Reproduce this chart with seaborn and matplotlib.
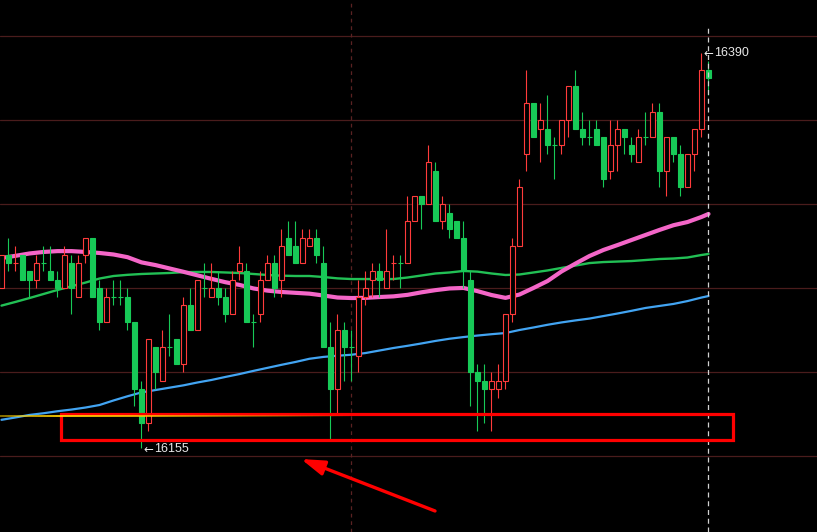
import numpy as np
import pandas as pd
import matplotlib
matplotlib.use("Agg")
import matplotlib.pyplot as plt
import seaborn as sns
from matplotlib.patches import Rectangle, FancyArrowPatch
from matplotlib.collections import LineCollection

# ---- candle data (one bar per period) ----
opens = [16250, 16270, 16265, 16270, 16260, 16255, 16265, 16260, 16255, 16250,
         16265, 16245, 16270, 16280, 16250, 16230, 16245, 16245, 16245, 16230,
         16190, 16170, 16215, 16195, 16215, 16220, 16205, 16240, 16225, 16250,
         16245, 16250, 16245, 16235, 16260, 16260, 16230, 16235, 16255, 16265,
         16255, 16280, 16275, 16265, 16275, 16280, 16265, 16215, 16190, 16225,
         16215, 16210, 16245, 16255, 16260, 16250, 16265, 16265, 16265, 16290,
         16305, 16300, 16320, 16290, 16295, 16290, 16280, 16255, 16200, 16195,
         16190, 16190, 16195, 16235, 16275, 16330, 16360, 16345, 16345, 16335,
         16335, 16350, 16370, 16345, 16340, 16345, 16340, 16320, 16335, 16345,
         16335, 16325, 16340, 16340, 16355, 16320, 16340, 16330, 16310, 16330,
         16345, 16380]
highs = [16270, 16280, 16275, 16270, 16260, 16270, 16275, 16275, 16260, 16275,
         16270, 16270, 16280, 16280, 16255, 16250, 16255, 16255, 16250, 16230,
         16195, 16220, 16215, 16225, 16235, 16220, 16245, 16250, 16255, 16265,
         16265, 16260, 16250, 16260, 16275, 16265, 16235, 16260, 16270, 16270,
         16285, 16290, 16290, 16285, 16285, 16285, 16275, 16230, 16235, 16230,
         16225, 16255, 16260, 16265, 16265, 16285, 16270, 16270, 16305, 16305,
         16305, 16335, 16325, 16305, 16300, 16290, 16290, 16260, 16205, 16205,
         16200, 16205, 16235, 16280, 16315, 16380, 16360, 16360, 16365, 16340,
         16350, 16370, 16380, 16355, 16350, 16350, 16340, 16350, 16350, 16345,
         16340, 16345, 16355, 16360, 16360, 16340, 16340, 16335, 16330, 16345,
         16390, 16385]
lows = [16250, 16260, 16260, 16255, 16245, 16250, 16260, 16255, 16245, 16250,
        16235, 16245, 16265, 16245, 16225, 16230, 16240, 16240, 16225, 16180,
        16155, 16165, 16190, 16195, 16210, 16205, 16200, 16225, 16225, 16245,
        16245, 16240, 16230, 16235, 16255, 16230, 16215, 16230, 16255, 16245,
        16245, 16270, 16265, 16265, 16275, 16265, 16215, 16160, 16175, 16195,
        16195, 16200, 16240, 16245, 16245, 16250, 16255, 16250, 16265, 16290,
        16285, 16300, 16290, 16285, 16280, 16280, 16250, 16180, 16165, 16170,
        16165, 16185, 16190, 16230, 16275, 16320, 16340, 16325, 16330, 16315,
        16330, 16340, 16345, 16335, 16335, 16335, 16310, 16315, 16320, 16330,
        16325, 16325, 16335, 16340, 16310, 16305, 16325, 16305, 16310, 16320,
        16340, 16365]
closes = [16270, 16265, 16265, 16255, 16255, 16265, 16265, 16255, 16250, 16270,
          16250, 16265, 16280, 16245, 16230, 16245, 16245, 16245, 16230, 16190,
          16170, 16220, 16200, 16215, 16215, 16205, 16240, 16225, 16255, 16250,
          16250, 16245, 16235, 16255, 16265, 16230, 16230, 16255, 16265, 16250,
          16275, 16270, 16265, 16280, 16280, 16270, 16215, 16190, 16225, 16215,
          16215, 16245, 16250, 16260, 16255, 16260, 16265, 16265, 16290, 16305,
          16300, 16325, 16290, 16300, 16285, 16280, 16260, 16200, 16195, 16190,
          16195, 16195, 16235, 16275, 16310, 16360, 16340, 16350, 16335, 16335,
          16350, 16370, 16345, 16340, 16340, 16335, 16315, 16335, 16345, 16340,
          16330, 16340, 16340, 16355, 16320, 16340, 16330, 16310, 16330, 16345,
          16380, 16375]
# flat bars that are drawn in the rising colour
rising_dojis = [2, 56]

# ---- moving averages, sampled every other bar ----
ma_bars = list(range(0, 101, 2)) + [101]
ma_pink = [16268.0, 16269.3, 16270.7, 16271.6, 16272.1, 16272.1, 16271.6, 16271.0,
           16270.1, 16268.5, 16265.4, 16263.8, 16261.8, 16259.8, 16257.7, 16255.6,
           16253.6, 16252.0, 16249.9, 16248.6, 16247.8, 16247.3, 16246.8, 16245.7,
           16244.5, 16244.2, 16244.3, 16244.8, 16245.2, 16246.1, 16247.6, 16248.9,
           16249.9, 16250.2, 16248.3, 16246.0, 16244.3, 16246.3, 16250.2, 16254.3,
           16260.0, 16264.7, 16269.2, 16272.8, 16275.7, 16278.7, 16281.7, 16284.7,
           16287.5, 16289.4, 16292.4, 16294.2]
ma_green = [16239.7, 16241.9, 16244.2, 16246.6, 16249.0, 16251.2, 16253.4, 16255.8,
            16257.3, 16258.0, 16258.5, 16258.8, 16259.1, 16259.6, 16259.7, 16259.7,
            16259.4, 16259.1, 16258.5, 16257.9, 16257.5, 16257.3, 16257.3, 16256.7,
            16255.9, 16255.5, 16255.5, 16255.5, 16255.5, 16256.4, 16257.6, 16258.8,
            16259.4, 16260.3, 16259.9, 16258.8, 16257.9, 16258.2, 16259.4, 16260.6,
            16262.1, 16263.5, 16265.0, 16265.6, 16265.9, 16266.2, 16266.8, 16267.4,
            16267.7, 16268.3, 16269.8, 16270.4]
ma_blue = [16171.8, 16173.2, 16174.7, 16175.7, 16176.9, 16177.9, 16179.1, 16180.6,
           16183.3, 16185.8, 16188.1, 16189.5, 16190.9, 16192.3, 16194.0, 16195.5,
           16197.3, 16199.0, 16200.9, 16202.7, 16204.5, 16206.2, 16208.1, 16209.2,
           16209.9, 16210.5, 16211.5, 16213.0, 16214.5, 16215.8, 16217.2, 16218.7,
           16220.0, 16221.0, 16221.9, 16222.7, 16223.4, 16225.2, 16226.7, 16228.3,
           16229.7, 16230.9, 16232.0, 16233.5, 16235.0, 16236.6, 16238.3, 16239.5,
           16240.7, 16242.4, 16244.5, 16245.4]

# price grid, session break, support zone
grid_levels = [16150, 16200, 16250, 16300, 16350, 16400]
session_break = 50
support_line = 16174
zone_low, zone_high = 16160, 16175

UP = "#ff3b3b"
DOWN = "#17c957"
BG = "black"
TAG = "#e8e8e8"

sns.set_theme(style="dark", rc={"figure.facecolor": BG, "axes.facecolor": BG,
                                "savefig.facecolor": BG})
plt.rcParams["font.family"] = ["Liberation Sans", "DejaVu Sans"]

fig = plt.figure(figsize=(8.17, 5.32), dpi=100)
ax = fig.add_axes([0, 0, 1, 1])
ax.set_facecolor(BG)
ax.set_xlim(-0.214, 116.5)
ax.set_ylim(16105.1, 16421.4)

# grid
for lv in grid_levels:
    ax.axhline(lv, color="#4a1c1c", lw=0.9, zorder=1)
ax.axvline(session_break, color="#5a2222", lw=0.9, ls=(0, (3, 3)), zorder=1)

# moving averages
ma = pd.DataFrame({"bar": ma_bars, "pink": ma_pink, "green": ma_green, "blue": ma_blue})
sns.lineplot(data=ma, x="bar", y="blue", color="#42a4f2", lw=1.6, ax=ax, zorder=2)
sns.lineplot(data=ma, x="bar", y="green", color="#22c055", lw=1.7, ax=ax, zorder=2)
sns.lineplot(data=ma, x="bar", y="pink", color="#f466c8", lw=3.0, ax=ax, zorder=2)
ax.axis("off")

# candles
body_w = 4.2 / 7
for i, (o, h, l, c) in enumerate(zip(opens, highs, lows, closes)):
    up = c > o or (c == o and i in rising_dojis)
    col = UP if up else DOWN
    ax.vlines(i, l, h, color=col, lw=0.8, zorder=3)
    lo, hi = min(o, c), max(o, c)
    ax.add_patch(Rectangle((i - body_w / 2, lo), body_w, hi - lo,
                           facecolor=BG if up else col, edgecolor=col,
                           lw=0.8, zorder=4))

# current-bar cursor
last = len(closes) - 1
ax.vlines(last, 16105.1, 16406, color="#d2d2d2", lw=0.9, ls=(0, (4, 3)), zorder=5)

# extreme price tags: small arrow glyph, then the price
i_lo = int(np.argmin(lows))
i_hi = int(np.argmax(highs))
for idx, price, dy in ((i_lo, lows[i_lo], -0.8), (i_hi, highs[i_hi], -0.3)):
    ax.annotate("\u2190", xy=(idx, price), xytext=(1.4, dy), textcoords="offset points",
                color=TAG, fontsize=8.5, family=["DejaVu Sans"],
                va="center", ha="left", zorder=6)
    ax.annotate(f"{price}", xy=(idx, price), xytext=(9.4, dy), textcoords="offset points",
                color=TAG, fontsize=9, va="center", ha="left", zorder=6)

# support zone box
ax.add_patch(Rectangle((8.43, zone_low), 104.57 - 8.43, zone_high - zone_low,
                       fill=False, edgecolor="#ff0000", lw=2.3, zorder=6))

# fading support line
xs = np.linspace(-0.3, 50, 120)
segs = [[(xs[k], support_line), (xs[k + 1], support_line)] for k in range(len(xs) - 1)]
mid = (xs[:-1] + xs[1:]) / 2
alpha = np.interp(mid, [-0.3, 8.4, 20, 50], [0.55, 1.0, 0.85, 0.0])
cols = [(1.0, 0.82, 0.0, a) for a in alpha]
ax.add_collection(LineCollection(segs, colors=cols, linewidths=1.3, zorder=7))

# pointer arrow
ax.add_patch(FancyArrowPatch((61.93, 16117.6), (42.79, 16148.5),
                             arrowstyle="-|>,head_length=1.0,head_width=0.32",
                             mutation_scale=14, color="#ff0000", lw=2.4,
                             shrinkA=0, shrinkB=0, zorder=8))

fig.savefig("out.png", dpi=100, facecolor=BG)
